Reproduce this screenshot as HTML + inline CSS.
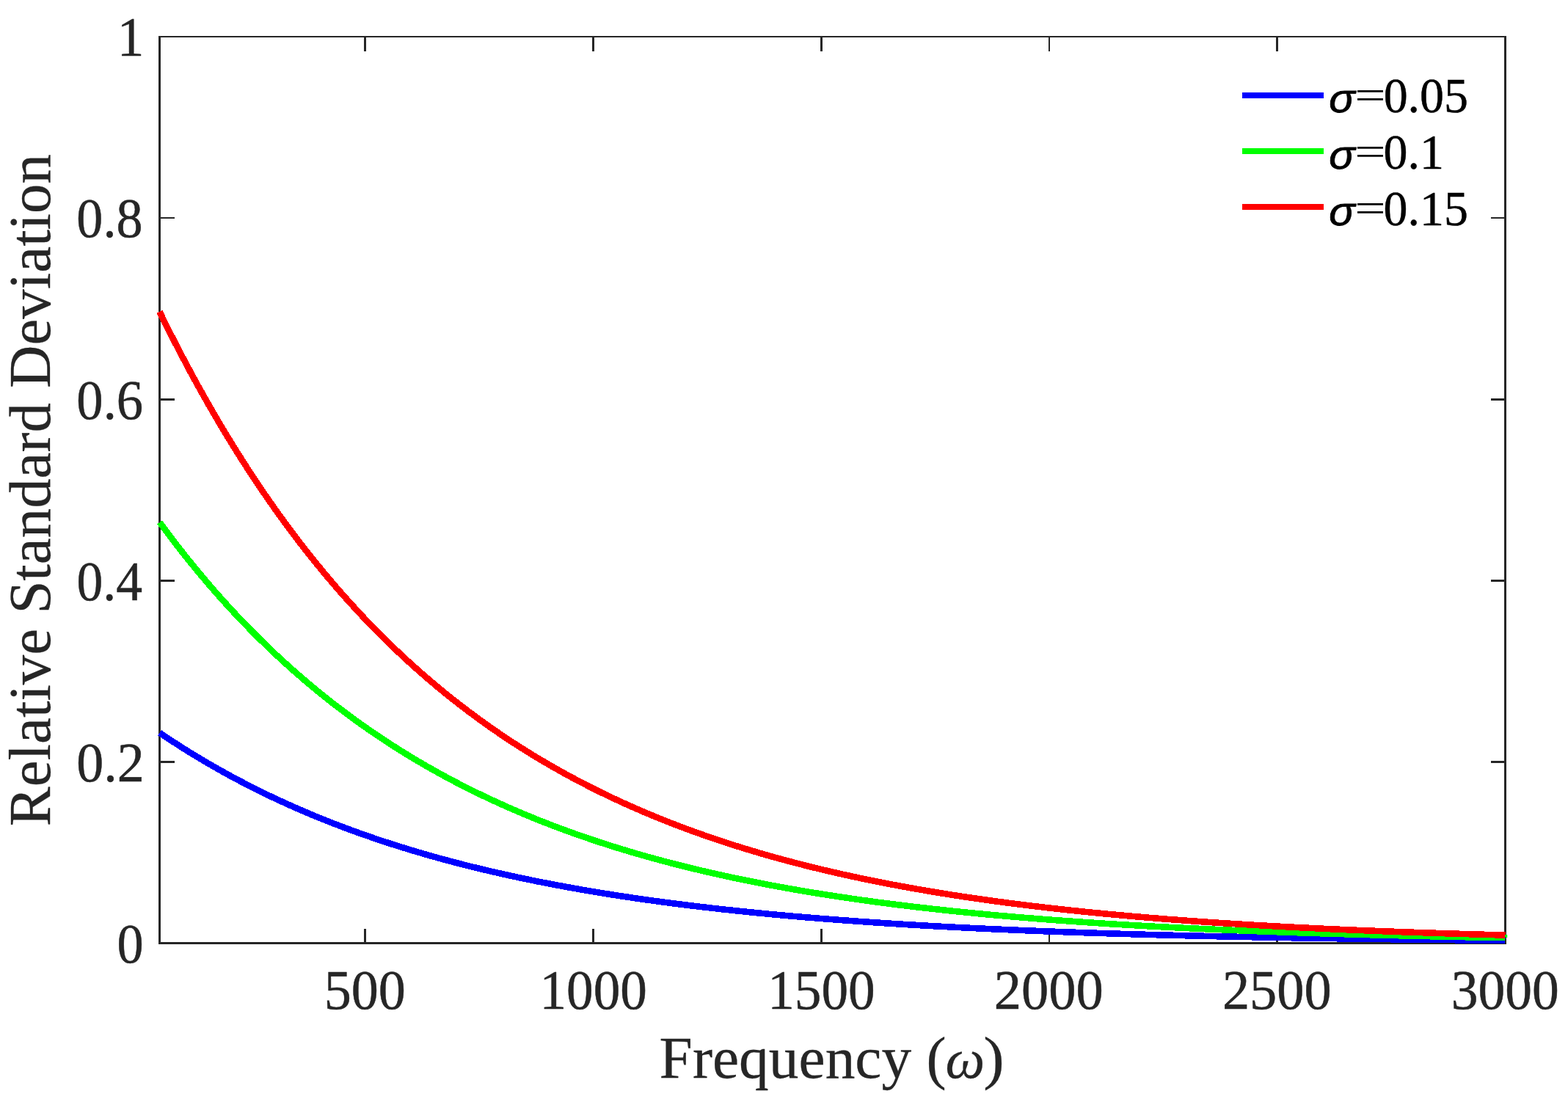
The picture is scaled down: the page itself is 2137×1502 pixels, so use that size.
<!DOCTYPE html>
<html lang="en"><head><meta charset="utf-8"><title>Relative Standard Deviation vs Frequency</title>
<style>
html,body{margin:0;padding:0;background:#fff;}
body{width:2137px;height:1502px;overflow:hidden;}
svg{display:block;}
text{font-family:"Liberation Serif","DejaVu Serif",serif;}
.tick{font-size:73.2px;fill:#262626;stroke:#262626;stroke-width:0.5px;}
.lab{font-size:80.5px;fill:#262626;stroke:#262626;stroke-width:0.3px;}
.leg{font-size:65.9px;fill:#000;stroke:#000;stroke-width:0.5px;}
.sig{font-family:"Liberation Sans","DejaVu Sans",sans-serif;font-style:italic;font-size:65.9px;fill:#000;stroke:#000;stroke-width:1px;}
.it{font-style:italic;}
.eq{stroke:none;}
</style></head><body>
<svg width="2137" height="1502" viewBox="0 0 2137 1502" role="img" aria-label="Relative Standard Deviation versus Frequency for three values of sigma">
<rect x="0" y="0" width="2137" height="1502" fill="#ffffff"/>

<g fill="#262626" shape-rendering="crispEdges">
<rect x="216" y="49" width="1837" height="2"/>
<rect x="216" y="1284" width="1837" height="3"/>
<rect x="216" y="49" width="3" height="1238"/>
<rect x="2050" y="49" width="3" height="1238"/>
<rect x="496" y="1266" width="3" height="18"/>
<rect x="496" y="51" width="3" height="19"/>
<rect x="807" y="1266" width="3" height="18"/>
<rect x="807" y="51" width="3" height="19"/>
<rect x="1118" y="1266" width="3" height="18"/>
<rect x="1118" y="51" width="3" height="19"/>
<rect x="1429" y="1266" width="2" height="18"/>
<rect x="1429" y="51" width="2" height="19"/>
<rect x="1739" y="1266" width="3" height="18"/>
<rect x="1739" y="51" width="3" height="19"/>
<rect x="219" y="296" width="19" height="2"/>
<rect x="2032" y="296" width="18" height="2"/>
<rect x="219" y="543" width="19" height="3"/>
<rect x="2032" y="543" width="18" height="3"/>
<rect x="219" y="790" width="19" height="3"/>
<rect x="2032" y="790" width="18" height="3"/>
<rect x="219" y="1037" width="19" height="3"/>
<rect x="2032" y="1037" width="18" height="3"/>
</g>
<g fill="none" stroke-linejoin="round" stroke-linecap="butt" shape-rendering="crispEdges" stroke-width="8.6">
<path d="M217.50,998.66 L223.61,1002.80 L229.73,1006.89 L235.84,1010.91 L241.95,1014.88 L248.07,1018.79 L254.18,1022.64 L260.29,1026.44 L266.41,1030.18 L272.52,1033.87 L278.63,1037.51 L284.75,1041.09 L290.86,1044.62 L296.97,1048.10 L303.09,1051.53 L309.20,1054.91 L315.31,1058.24 L321.43,1061.53 L327.54,1064.76 L333.65,1067.95 L339.77,1071.09 L345.88,1074.19 L351.99,1077.24 L358.11,1080.25 L364.22,1083.22 L370.33,1086.14 L376.45,1089.02 L382.56,1091.86 L388.67,1094.66 L394.79,1097.42 L400.90,1100.13 L407.01,1102.81 L413.13,1105.45 L419.24,1108.05 L425.35,1110.62 L431.47,1113.14 L437.58,1115.63 L443.69,1118.09 L449.81,1120.51 L455.92,1122.89 L462.03,1125.24 L468.15,1127.55 L474.26,1129.84 L480.37,1132.09 L486.49,1134.30 L492.60,1136.49 L498.71,1138.64 L504.83,1140.76 L510.94,1142.85 L517.05,1144.91 L523.17,1146.94 L529.28,1148.95 L535.39,1150.92 L541.51,1152.86 L547.62,1154.78 L553.73,1156.67 L559.85,1158.53 L565.96,1160.36 L572.07,1162.17 L578.19,1163.95 L584.30,1165.71 L590.41,1167.44 L596.53,1169.15 L602.64,1170.83 L608.75,1172.48 L614.87,1174.12 L620.98,1175.73 L627.09,1177.31 L633.21,1178.88 L639.32,1180.42 L645.43,1181.93 L651.55,1183.43 L657.66,1184.91 L663.77,1186.36 L669.89,1187.79 L676.00,1189.20 L682.11,1190.59 L688.23,1191.97 L694.34,1193.32 L700.45,1194.65 L706.57,1195.96 L712.68,1197.26 L718.79,1198.53 L724.91,1199.79 L731.02,1201.02 L737.13,1202.25 L743.25,1203.45 L749.36,1204.63 L755.47,1205.80 L761.59,1206.95 L767.70,1208.09 L773.81,1209.21 L779.93,1210.31 L786.04,1211.40 L792.15,1212.47 L798.27,1213.52 L804.38,1214.56 L810.49,1215.59 L816.61,1216.60 L822.72,1217.59 L828.83,1218.57 L834.95,1219.54 L841.06,1220.49 L847.17,1221.43 L853.29,1222.36 L859.40,1223.27 L865.51,1224.17 L871.63,1225.06 L877.74,1225.93 L883.85,1226.79 L889.97,1227.64 L896.08,1228.47 L902.19,1229.30 L908.31,1230.11 L914.42,1230.91 L920.53,1231.70 L926.65,1232.48 L932.76,1233.24 L938.87,1234.00 L944.99,1234.74 L951.10,1235.47 L957.21,1236.20 L963.33,1236.91 L969.44,1237.61 L975.55,1238.30 L981.67,1238.99 L987.78,1239.66 L993.89,1240.32 L1000.01,1240.97 L1006.12,1241.62 L1012.23,1242.25 L1018.35,1242.87 L1024.46,1243.49 L1030.57,1244.10 L1036.69,1244.70 L1042.80,1245.29 L1048.91,1245.87 L1055.03,1246.44 L1061.14,1247.00 L1067.25,1247.56 L1073.37,1248.11 L1079.48,1248.65 L1085.59,1249.18 L1091.71,1249.70 L1097.82,1250.22 L1103.93,1250.73 L1110.05,1251.23 L1116.16,1251.73 L1122.27,1252.22 L1128.39,1252.70 L1134.50,1253.17 L1140.61,1253.64 L1146.73,1254.10 L1152.84,1254.55 L1158.95,1255.00 L1165.07,1255.44 L1171.18,1255.88 L1177.29,1256.30 L1183.41,1256.72 L1189.52,1257.14 L1195.63,1257.55 L1201.75,1257.95 L1207.86,1258.35 L1213.97,1258.74 L1220.09,1259.13 L1226.20,1259.51 L1232.31,1259.89 L1238.43,1260.26 L1244.54,1260.62 L1250.65,1260.98 L1256.77,1261.34 L1262.88,1261.68 L1268.99,1262.03 L1275.11,1262.37 L1281.22,1262.70 L1287.33,1263.03 L1293.45,1263.36 L1299.56,1263.68 L1305.67,1263.99 L1311.79,1264.30 L1317.90,1264.61 L1324.01,1264.91 L1330.13,1265.21 L1336.24,1265.50 L1342.35,1265.79 L1348.47,1266.07 L1354.58,1266.36 L1360.69,1266.63 L1366.81,1266.90 L1372.92,1267.17 L1379.03,1267.44 L1385.15,1267.70 L1391.26,1267.96 L1397.37,1268.21 L1403.49,1268.46 L1409.60,1268.71 L1415.71,1268.95 L1421.83,1269.19 L1427.94,1269.42 L1434.05,1269.66 L1440.17,1269.88 L1446.28,1270.11 L1452.39,1270.33 L1458.51,1270.55 L1464.62,1270.77 L1470.73,1270.98 L1476.85,1271.19 L1482.96,1271.40 L1489.07,1271.60 L1495.19,1271.80 L1501.30,1272.00 L1507.41,1272.19 L1513.53,1272.39 L1519.64,1272.58 L1525.75,1272.76 L1531.87,1272.95 L1537.98,1273.13 L1544.09,1273.31 L1550.21,1273.48 L1556.32,1273.66 L1562.43,1273.83 L1568.55,1274.00 L1574.66,1274.16 L1580.77,1274.33 L1586.89,1274.49 L1593.00,1274.65 L1599.11,1274.80 L1605.23,1274.96 L1611.34,1275.11 L1617.45,1275.26 L1623.57,1275.41 L1629.68,1275.55 L1635.79,1275.70 L1641.91,1275.84 L1648.02,1275.98 L1654.13,1276.12 L1660.25,1276.25 L1666.36,1276.39 L1672.47,1276.52 L1678.59,1276.65 L1684.70,1276.78 L1690.81,1276.90 L1696.93,1277.03 L1703.04,1277.15 L1709.15,1277.27 L1715.27,1277.39 L1721.38,1277.50 L1727.49,1277.62 L1733.61,1277.73 L1739.72,1277.85 L1745.83,1277.96 L1751.95,1278.07 L1758.06,1278.17 L1764.17,1278.28 L1770.29,1278.38 L1776.40,1278.49 L1782.51,1278.59 L1788.63,1278.69 L1794.74,1278.79 L1800.85,1278.88 L1806.97,1278.98 L1813.08,1279.07 L1819.19,1279.17 L1825.31,1279.26 L1831.42,1279.35 L1837.53,1279.44 L1843.65,1279.52 L1849.76,1279.61 L1855.87,1279.70 L1861.99,1279.78 L1868.10,1279.86 L1874.21,1279.94 L1880.33,1280.02 L1886.44,1280.10 L1892.55,1280.18 L1898.67,1280.26 L1904.78,1280.33 L1910.89,1280.41 L1917.01,1280.48 L1923.12,1280.55 L1929.23,1280.63 L1935.35,1280.70 L1941.46,1280.77 L1947.57,1280.83 L1953.69,1280.90 L1959.80,1280.97 L1965.91,1281.03 L1972.03,1281.10 L1978.14,1281.16 L1984.25,1281.22 L1990.37,1281.29 L1996.48,1281.35 L2002.59,1281.41 L2008.71,1281.47 L2014.82,1281.52 L2020.93,1281.58 L2027.05,1281.64 L2033.16,1281.69 L2039.27,1281.75 L2045.39,1281.80 L2051.50,1281.86" stroke="#0000ff"/>
<path d="M217.50,711.81 L223.61,720.10 L229.73,728.27 L235.84,736.32 L241.95,744.26 L248.07,752.08 L254.18,759.78 L260.29,767.38 L266.41,774.86 L272.52,782.24 L278.63,789.51 L284.75,796.68 L290.86,803.74 L296.97,810.70 L303.09,817.56 L309.20,824.32 L315.31,830.99 L321.43,837.55 L327.54,844.02 L333.65,850.40 L339.77,856.69 L345.88,862.88 L351.99,868.99 L358.11,875.01 L364.22,880.94 L370.33,886.78 L376.45,892.54 L382.56,898.22 L388.67,903.82 L394.79,909.33 L400.90,914.77 L407.01,920.12 L413.13,925.40 L419.24,930.60 L425.35,935.73 L431.47,940.79 L437.58,945.77 L443.69,950.67 L449.81,955.51 L455.92,960.28 L462.03,964.98 L468.15,969.61 L474.26,974.17 L480.37,978.67 L486.49,983.10 L492.60,987.47 L498.71,991.78 L504.83,996.02 L510.94,1000.20 L517.05,1004.33 L523.17,1008.39 L529.28,1012.39 L535.39,1016.34 L541.51,1020.23 L547.62,1024.06 L553.73,1027.84 L559.85,1031.56 L565.96,1035.23 L572.07,1038.85 L578.19,1042.41 L584.30,1045.92 L590.41,1049.38 L596.53,1052.79 L602.64,1056.16 L608.75,1059.47 L614.87,1062.74 L620.98,1065.95 L627.09,1069.13 L633.21,1072.25 L639.32,1075.33 L645.43,1078.37 L651.55,1081.36 L657.66,1084.31 L663.77,1087.22 L669.89,1090.08 L676.00,1092.91 L682.11,1095.69 L688.23,1098.43 L694.34,1101.13 L700.45,1103.80 L706.57,1106.42 L712.68,1109.01 L718.79,1111.56 L724.91,1114.07 L731.02,1116.55 L737.13,1118.99 L743.25,1121.40 L749.36,1123.77 L755.47,1126.10 L761.59,1128.41 L767.70,1130.68 L773.81,1132.91 L779.93,1135.12 L786.04,1137.29 L792.15,1139.43 L798.27,1141.54 L804.38,1143.62 L810.49,1145.67 L816.61,1147.69 L822.72,1149.68 L828.83,1151.65 L834.95,1153.58 L841.06,1155.49 L847.17,1157.36 L853.29,1159.22 L859.40,1161.04 L865.51,1162.84 L871.63,1164.61 L877.74,1166.36 L883.85,1168.08 L889.97,1169.77 L896.08,1171.45 L902.19,1173.09 L908.31,1174.72 L914.42,1176.32 L920.53,1177.90 L926.65,1179.45 L932.76,1180.98 L938.87,1182.49 L944.99,1183.98 L951.10,1185.45 L957.21,1186.89 L963.33,1188.32 L969.44,1189.72 L975.55,1191.11 L981.67,1192.47 L987.78,1193.81 L993.89,1195.14 L1000.01,1196.44 L1006.12,1197.73 L1012.23,1199.00 L1018.35,1200.25 L1024.46,1201.48 L1030.57,1202.69 L1036.69,1203.89 L1042.80,1205.07 L1048.91,1206.23 L1055.03,1207.38 L1061.14,1208.51 L1067.25,1209.62 L1073.37,1210.72 L1079.48,1211.80 L1085.59,1212.86 L1091.71,1213.91 L1097.82,1214.94 L1103.93,1215.96 L1110.05,1216.97 L1116.16,1217.96 L1122.27,1218.93 L1128.39,1219.90 L1134.50,1220.84 L1140.61,1221.78 L1146.73,1222.70 L1152.84,1223.61 L1158.95,1224.50 L1165.07,1225.38 L1171.18,1226.25 L1177.29,1227.11 L1183.41,1227.95 L1189.52,1228.78 L1195.63,1229.60 L1201.75,1230.41 L1207.86,1231.20 L1213.97,1231.99 L1220.09,1232.76 L1226.20,1233.52 L1232.31,1234.27 L1238.43,1235.01 L1244.54,1235.74 L1250.65,1236.46 L1256.77,1237.17 L1262.88,1237.87 L1268.99,1238.56 L1275.11,1239.24 L1281.22,1239.90 L1287.33,1240.56 L1293.45,1241.21 L1299.56,1241.85 L1305.67,1242.48 L1311.79,1243.10 L1317.90,1243.72 L1324.01,1244.32 L1330.13,1244.92 L1336.24,1245.50 L1342.35,1246.08 L1348.47,1246.65 L1354.58,1247.21 L1360.69,1247.76 L1366.81,1248.31 L1372.92,1248.85 L1379.03,1249.38 L1385.15,1249.90 L1391.26,1250.41 L1397.37,1250.92 L1403.49,1251.42 L1409.60,1251.91 L1415.71,1252.40 L1421.83,1252.88 L1427.94,1253.35 L1434.05,1253.81 L1440.17,1254.27 L1446.28,1254.72 L1452.39,1255.16 L1458.51,1255.60 L1464.62,1256.03 L1470.73,1256.46 L1476.85,1256.88 L1482.96,1257.29 L1489.07,1257.70 L1495.19,1258.10 L1501.30,1258.50 L1507.41,1258.89 L1513.53,1259.27 L1519.64,1259.65 L1525.75,1260.03 L1531.87,1260.39 L1537.98,1260.76 L1544.09,1261.11 L1550.21,1261.47 L1556.32,1261.81 L1562.43,1262.16 L1568.55,1262.49 L1574.66,1262.83 L1580.77,1263.15 L1586.89,1263.48 L1593.00,1263.79 L1599.11,1264.11 L1605.23,1264.42 L1611.34,1264.72 L1617.45,1265.02 L1623.57,1265.32 L1629.68,1265.61 L1635.79,1265.90 L1641.91,1266.18 L1648.02,1266.46 L1654.13,1266.73 L1660.25,1267.01 L1666.36,1267.27 L1672.47,1267.54 L1678.59,1267.80 L1684.70,1268.05 L1690.81,1268.30 L1696.93,1268.55 L1703.04,1268.80 L1709.15,1269.04 L1715.27,1269.28 L1721.38,1269.51 L1727.49,1269.74 L1733.61,1269.97 L1739.72,1270.19 L1745.83,1270.41 L1751.95,1270.63 L1758.06,1270.85 L1764.17,1271.06 L1770.29,1271.27 L1776.40,1271.47 L1782.51,1271.68 L1788.63,1271.88 L1794.74,1272.07 L1800.85,1272.27 L1806.97,1272.46 L1813.08,1272.65 L1819.19,1272.83 L1825.31,1273.01 L1831.42,1273.20 L1837.53,1273.37 L1843.65,1273.55 L1849.76,1273.72 L1855.87,1273.89 L1861.99,1274.06 L1868.10,1274.22 L1874.21,1274.39 L1880.33,1274.55 L1886.44,1274.71 L1892.55,1274.86 L1898.67,1275.02 L1904.78,1275.17 L1910.89,1275.32 L1917.01,1275.46 L1923.12,1275.61 L1929.23,1275.75 L1935.35,1275.89 L1941.46,1276.03 L1947.57,1276.17 L1953.69,1276.30 L1959.80,1276.44 L1965.91,1276.57 L1972.03,1276.70 L1978.14,1276.82 L1984.25,1276.95 L1990.37,1277.07 L1996.48,1277.19 L2002.59,1277.31 L2008.71,1277.43 L2014.82,1277.55 L2020.93,1277.66 L2027.05,1277.78 L2033.16,1277.89 L2039.27,1278.00 L2045.39,1278.11 L2051.50,1278.21" stroke="#00ff00"/>
<path d="M217.50,424.97 L223.61,437.40 L229.73,449.66 L235.84,461.73 L241.95,473.63 L248.07,485.36 L254.18,496.92 L260.29,508.32 L266.41,519.55 L272.52,530.61 L278.63,541.52 L284.75,552.27 L290.86,562.86 L296.97,573.30 L303.09,583.59 L309.20,593.73 L315.31,603.73 L321.43,613.58 L327.54,623.29 L333.65,632.85 L339.77,642.28 L345.88,651.58 L351.99,660.73 L358.11,669.76 L364.22,678.66 L370.33,687.43 L376.45,696.07 L382.56,704.58 L388.67,712.98 L394.79,721.25 L400.90,729.40 L407.01,737.43 L413.13,745.35 L419.24,753.16 L425.35,760.85 L431.47,768.43 L437.58,775.90 L443.69,783.26 L449.81,790.52 L455.92,797.67 L462.03,804.72 L468.15,811.66 L474.26,818.51 L480.37,825.26 L486.49,831.91 L492.60,838.46 L498.71,844.92 L504.83,851.28 L510.94,857.56 L517.05,863.74 L523.17,869.83 L529.28,875.84 L535.39,881.76 L541.51,887.59 L547.62,893.34 L553.73,899.01 L559.85,904.59 L565.96,910.09 L572.07,915.52 L578.19,920.86 L584.30,926.13 L590.41,931.32 L596.53,936.44 L602.64,941.48 L608.75,946.45 L614.87,951.35 L620.98,956.18 L627.09,960.94 L633.21,965.63 L639.32,970.25 L645.43,974.80 L651.55,979.29 L657.66,983.72 L663.77,988.08 L669.89,992.37 L676.00,996.61 L682.11,1000.78 L688.23,1004.90 L694.34,1008.95 L700.45,1012.95 L706.57,1016.88 L712.68,1020.77 L718.79,1024.59 L724.91,1028.36 L731.02,1032.07 L737.13,1035.74 L743.25,1039.34 L749.36,1042.90 L755.47,1046.41 L761.59,1049.86 L767.70,1053.27 L773.81,1056.62 L779.93,1059.93 L786.04,1063.19 L792.15,1066.40 L798.27,1069.56 L804.38,1072.68 L810.49,1075.76 L816.61,1078.79 L822.72,1081.78 L828.83,1084.72 L834.95,1087.62 L841.06,1090.48 L847.17,1093.30 L853.29,1096.07 L859.40,1098.81 L865.51,1101.51 L871.63,1104.17 L877.74,1106.79 L883.85,1109.37 L889.97,1111.91 L896.08,1114.42 L902.19,1116.89 L908.31,1119.33 L914.42,1121.73 L920.53,1124.10 L926.65,1126.43 L932.76,1128.73 L938.87,1130.99 L944.99,1133.22 L951.10,1135.42 L957.21,1137.59 L963.33,1139.73 L969.44,1141.83 L975.55,1143.91 L981.67,1145.96 L987.78,1147.97 L993.89,1149.96 L1000.01,1151.92 L1006.12,1153.85 L1012.23,1155.75 L1018.35,1157.62 L1024.46,1159.47 L1030.57,1161.29 L1036.69,1163.09 L1042.80,1164.86 L1048.91,1166.60 L1055.03,1168.32 L1061.14,1170.01 L1067.25,1171.68 L1073.37,1173.32 L1079.48,1174.94 L1085.59,1176.54 L1091.71,1178.11 L1097.82,1179.67 L1103.93,1181.20 L1110.05,1182.70 L1116.16,1184.19 L1122.27,1185.65 L1128.39,1187.09 L1134.50,1188.52 L1140.61,1189.92 L1146.73,1191.30 L1152.84,1192.66 L1158.95,1194.00 L1165.07,1195.32 L1171.18,1196.63 L1177.29,1197.91 L1183.41,1199.17 L1189.52,1200.42 L1195.63,1201.65 L1201.75,1202.86 L1207.86,1204.06 L1213.97,1205.23 L1220.09,1206.39 L1226.20,1207.54 L1232.31,1208.66 L1238.43,1209.77 L1244.54,1210.87 L1250.65,1211.94 L1256.77,1213.01 L1262.88,1214.05 L1268.99,1215.09 L1275.11,1216.10 L1281.22,1217.11 L1287.33,1218.10 L1293.45,1219.07 L1299.56,1220.03 L1305.67,1220.97 L1311.79,1221.91 L1317.90,1222.83 L1324.01,1223.73 L1330.13,1224.62 L1336.24,1225.50 L1342.35,1226.37 L1348.47,1227.22 L1354.58,1228.07 L1360.69,1228.90 L1366.81,1229.71 L1372.92,1230.52 L1379.03,1231.31 L1385.15,1232.10 L1391.26,1232.87 L1397.37,1233.63 L1403.49,1234.38 L1409.60,1235.12 L1415.71,1235.85 L1421.83,1236.56 L1427.94,1237.27 L1434.05,1237.97 L1440.17,1238.65 L1446.28,1239.33 L1452.39,1240.00 L1458.51,1240.65 L1464.62,1241.30 L1470.73,1241.94 L1476.85,1242.57 L1482.96,1243.19 L1489.07,1243.80 L1495.19,1244.40 L1501.30,1245.00 L1507.41,1245.58 L1513.53,1246.16 L1519.64,1246.73 L1525.75,1247.29 L1531.87,1247.84 L1537.98,1248.38 L1544.09,1248.92 L1550.21,1249.45 L1556.32,1249.97 L1562.43,1250.48 L1568.55,1250.99 L1574.66,1251.49 L1580.77,1251.98 L1586.89,1252.46 L1593.00,1252.94 L1599.11,1253.41 L1605.23,1253.88 L1611.34,1254.33 L1617.45,1254.78 L1623.57,1255.23 L1629.68,1255.66 L1635.79,1256.09 L1641.91,1256.52 L1648.02,1256.94 L1654.13,1257.35 L1660.25,1257.76 L1666.36,1258.16 L1672.47,1258.55 L1678.59,1258.94 L1684.70,1259.33 L1690.81,1259.70 L1696.93,1260.08 L1703.04,1260.44 L1709.15,1260.81 L1715.27,1261.16 L1721.38,1261.51 L1727.49,1261.86 L1733.61,1262.20 L1739.72,1262.54 L1745.83,1262.87 L1751.95,1263.20 L1758.06,1263.52 L1764.17,1263.84 L1770.29,1264.15 L1776.40,1264.46 L1782.51,1264.76 L1788.63,1265.06 L1794.74,1265.36 L1800.85,1265.65 L1806.97,1265.94 L1813.08,1266.22 L1819.19,1266.50 L1825.31,1266.77 L1831.42,1267.04 L1837.53,1267.31 L1843.65,1267.57 L1849.76,1267.83 L1855.87,1268.09 L1861.99,1268.34 L1868.10,1268.59 L1874.21,1268.83 L1880.33,1269.07 L1886.44,1269.31 L1892.55,1269.54 L1898.67,1269.77 L1904.78,1270.00 L1910.89,1270.22 L1917.01,1270.44 L1923.12,1270.66 L1929.23,1270.88 L1935.35,1271.09 L1941.46,1271.30 L1947.57,1271.50 L1953.69,1271.70 L1959.80,1271.90 L1965.91,1272.10 L1972.03,1272.29 L1978.14,1272.48 L1984.25,1272.67 L1990.37,1272.86 L1996.48,1273.04 L2002.59,1273.22 L2008.71,1273.40 L2014.82,1273.57 L2020.93,1273.74 L2027.05,1273.91 L2033.16,1274.08 L2039.27,1274.25 L2045.39,1274.41 L2051.50,1274.57" stroke="#ff0000"/>
</g>
<rect x="2052" y="1274" width="2.2" height="4" fill="#00ff00"/>
<text class="tick" transform="translate(159.72,75.84) scale(1.0000,1.0503)">1</text>
<text class="tick" transform="translate(104.34,322.70) scale(0.9850,1.0368)">0.8</text>
<text class="tick" transform="translate(104.37,570.70) scale(0.9914,1.0368)">0.6</text>
<text class="tick" transform="translate(104.40,817.70) scale(0.9790,1.0368)">0.4</text>
<text class="tick" transform="translate(104.32,1064.70) scale(1.0106,1.0368)">0.2</text>
<text class="tick" transform="translate(159.53,1311.86) scale(0.9873,1.0380)">0</text>
<text class="tick" transform="translate(441.75,1374.96) scale(1.0121,1.0400)">500</text>
<text class="tick" transform="translate(735.45,1374.86) scale(1.0000,1.0380)">1000</text>
<text class="tick" transform="translate(1046.25,1374.86) scale(1.0000,1.0380)">1500</text>
<text class="tick" transform="translate(1354.85,1374.86) scale(1.0171,1.0380)">2000</text>
<text class="tick" transform="translate(1665.90,1374.86) scale(1.0156,1.0380)">2500</text>
<text class="tick" transform="translate(1977.63,1374.86) scale(1.0050,1.0380)">3000</text>
<g class="xlabel"><text class="lab" transform="translate(898.62,1468.65) scale(1.0113,0.9953)" xml:space="preserve">Frequency (</text><text class="lab it" transform="translate(1288.54,1469.04) scale(0.9451,0.9574)">ω</text><text class="lab" transform="translate(1340.15,1468.79) scale(1.0619,0.9980)">)</text></g>
<text class="lab" transform="translate(68.04,1126.26) rotate(-90) scale(1.0047,0.9964)">Relative Standard Deviation</text>
<g class="legend">
<g class="entry"><rect x="1693" y="126" width="111" height="8" fill="#0000ff" shape-rendering="crispEdges"/><text class="sig" transform="translate(1811.29,153.07) scale(0.8926,0.8247)">σ</text><text class="leg eq" transform="translate(1846.29,148.23) scale(1.1415,0.8358)">=</text><text class="leg" transform="translate(1885.65,153.23) scale(1.0000,1.0302)">0.05</text></g>
<g class="entry"><rect x="1693" y="202" width="111" height="8" fill="#00ff00" shape-rendering="crispEdges"/><text class="sig" transform="translate(1811.29,230.07) scale(0.8926,0.8247)">σ</text><text class="leg eq" transform="translate(1846.29,225.23) scale(1.1415,0.8358)">=</text><text class="leg" transform="translate(1885.60,230.33) scale(1.0000,1.0313)">0.1</text></g>
<g class="entry"><rect x="1693" y="278" width="111" height="8" fill="#ff0000" shape-rendering="crispEdges"/><text class="sig" transform="translate(1811.29,307.07) scale(0.8926,0.8247)">σ</text><text class="leg eq" transform="translate(1846.29,302.23) scale(1.1415,0.8358)">=</text><text class="leg" transform="translate(1885.55,307.37) scale(1.0000,1.0346)">0.15</text></g>
</g>
</svg></body></html>
